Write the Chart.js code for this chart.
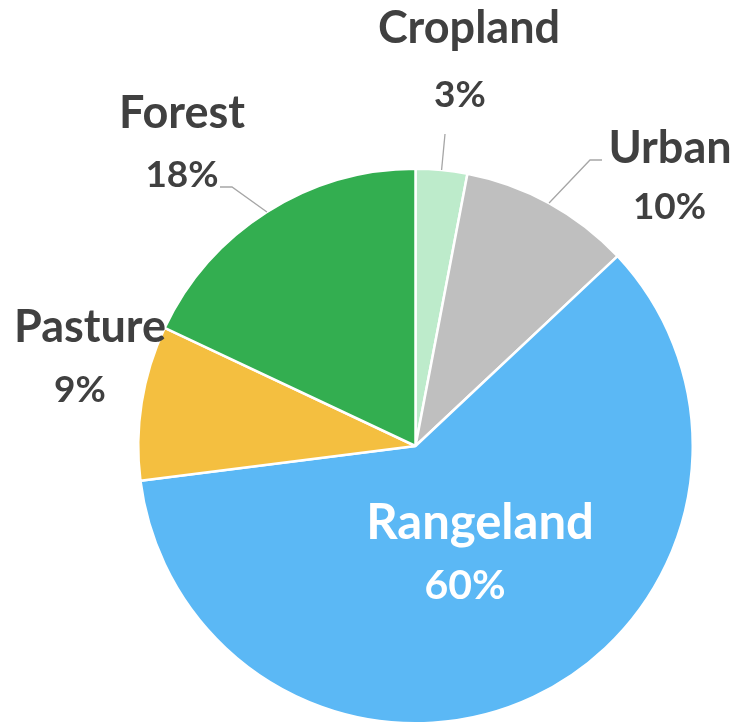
<!DOCTYPE html>
<html>
<head>
<meta charset="utf-8">
<script src="https://cdn.jsdelivr.net/npm/chart.js@4"></script>
<style>
  html, body { margin: 0; padding: 0; background: #ffffff; }
  #wrap { position: relative; width: 736px; height: 725px; }
</style>
</head>
<body>
<div id="wrap"><canvas id="landUse"></canvas></div>
<script>
// Land use share, clockwise from 12 o'clock
const categories = ['Cropland', 'Urban', 'Rangeland', 'Pasture', 'Forest'];
const shares = [3, 10, 60, 9, 18];
const sliceColors = ['#bdebcb', '#bfbfbf', '#5bb8f5', '#f4bf40', '#33ae50'];

// Label placement: centre x / baseline y of name and percent lines, relative to the chart centre
const labelLayout = [
  { nx: 53.5, ny: -403, px: 44.5, py: -339, big: false, color: '#404040', leader: [[29.5, -312]] },
  { nx: 254.5, ny: -283, px: 254, py: -227, big: false, color: '#404040', leader: [[174.5, -286], [186.5, -286]] },
  { nx: 64.5, ny: 93, px: 49.5, py: 153, big: true, color: '#ffffff', leader: null },
  { nx: -325.5, ny: -104, px: -335.5, py: -44, big: false, color: '#404040', leader: null },
  { nx: -233.5, ny: -318, px: -233.5, py: -259, big: false, color: '#404040', leader: [[-183.5, -259], [-195.5, -259]] },
];

const labelPlugin = {
  id: 'sliceLabels',
  afterDatasetsDraw(chart) {
    const ctx = chart.ctx;
    const arcs = chart.getDatasetMeta(0).data;
    ctx.save();
    ctx.textAlign = 'center';
    ctx.textBaseline = 'alphabetic';
    arcs.forEach((arc, i) => {
      const lay = labelLayout[i];
      const cx = arc.x, cy = arc.y;
      if (lay.leader) {
        const mid = (arc.startAngle + arc.endAngle) / 2;
        const r = arc.outerRadius;
        ctx.strokeStyle = '#a6a6a6';
        ctx.lineWidth = 1.3;
        ctx.beginPath();
        ctx.moveTo(cx + r * Math.cos(mid), cy + r * Math.sin(mid));
        lay.leader.forEach(p => ctx.lineTo(cx + p[0], cy + p[1]));
        ctx.stroke();
      }
      ctx.fillStyle = lay.color;
      ctx.font = `bold ${lay.big ? 49 : 45}px Lato, 'Open Sans', sans-serif`;
      ctx.fillText(categories[i], cx + lay.nx, cy + lay.ny);
      ctx.font = `bold ${lay.big ? 41 : 37}px Lato, 'Open Sans', sans-serif`;
      ctx.fillText(shares[i] + '%', cx + lay.px, cy + lay.py);
    });
    ctx.restore();
  },
};

new Chart(document.getElementById('landUse'), {
  type: 'pie',
  data: {
    labels: categories,
    datasets: [{
      data: shares,
      backgroundColor: sliceColors,
      borderColor: '#ffffff',
      borderWidth: 2.5,
    }],
  },
  options: {
    responsive: true,
    maintainAspectRatio: false,
    animation: false,
    layout: { padding: { left: 137, right: 42, top: 167, bottom: 0 } },
    plugins: {
      legend: { display: false },
      tooltip: { enabled: false },
    },
  },
  plugins: [labelPlugin],
});
</script>
</body>
</html>
